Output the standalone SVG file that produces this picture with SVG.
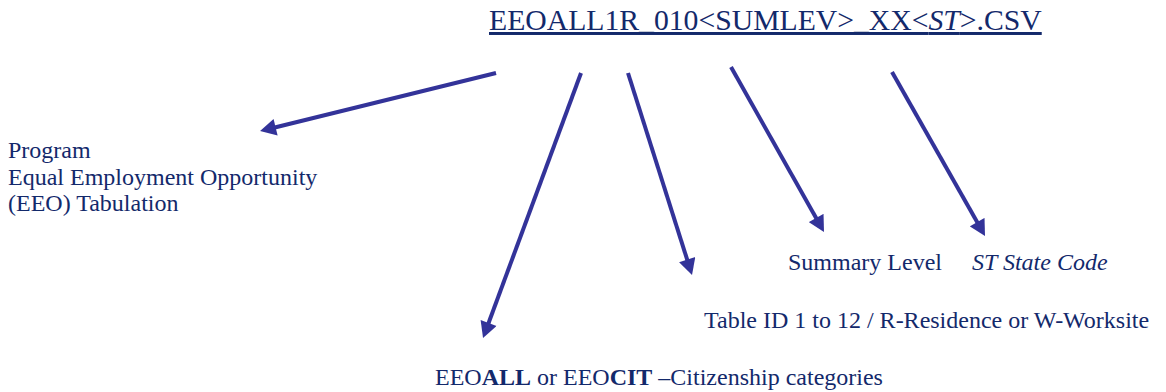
<svg xmlns="http://www.w3.org/2000/svg" width="1166" height="392" viewBox="0 0 1166 392">
<style>
  text { font-family: "Liberation Serif", "Times New Roman", serif; fill: #13296b; }
  .lbl { font-size: 24px; }
  .title { font-size: 29.7px; text-decoration: underline; }
  .conn { stroke: #333399; stroke-width: 4; fill: none; }
</style>
<defs>
  <marker id="ah" markerUnits="userSpaceOnUse" markerWidth="17" markerHeight="17" viewBox="0 0 16 17" refX="4" refY="8.5" orient="auto">
    <path d="M0,0 L16,8.5 L0,17 z" fill="#333399"/>
  </marker>
</defs>
<rect width="1166" height="392" fill="#ffffff"/>
<g id="title">
  <text class="title" x="489" y="30">EEOALL1R_010&lt;SUMLEV&gt;_XX&lt;<tspan font-style="italic">ST</tspan>&gt;.CSV</text>
</g>
<g id="connectors">
  <line class="conn" x1="496" y1="73" x2="271.7" y2="128.2" marker-end="url(#ah)"/>
  <line class="conn" x1="581" y1="73" x2="487.2" y2="326.7" marker-end="url(#ah)"/>
  <line class="conn" x1="628" y1="73" x2="688.4" y2="263.5" marker-end="url(#ah)"/>
  <line class="conn" x1="731" y1="67" x2="818.1" y2="221.5" marker-end="url(#ah)"/>
  <line class="conn" x1="892" y1="72" x2="979.1" y2="225.6" marker-end="url(#ah)"/>
</g>
<g id="program">
  <text class="lbl" x="8" y="158">Program</text>
  <text class="lbl" x="8" y="185">Equal Employment Opportunity</text>
  <text class="lbl" x="8" y="211">(EEO) Tabulation</text>
</g>
<g id="summary-level">
  <text class="lbl" x="788" y="270">Summary Level</text>
</g>
<g id="state-code">
  <text class="lbl" x="972" y="270" font-style="italic">ST State Code</text>
</g>
<g id="table-id">
  <text class="lbl" x="704" y="328">Table ID 1 to 12 / R-Residence or W-Worksite</text>
</g>
<g id="citizenship">
  <text class="lbl" x="435" y="385">EEO<tspan font-weight="bold">ALL</tspan> or EEO<tspan font-weight="bold">CIT</tspan> –Citizenship categories</text>
</g>
</svg>
